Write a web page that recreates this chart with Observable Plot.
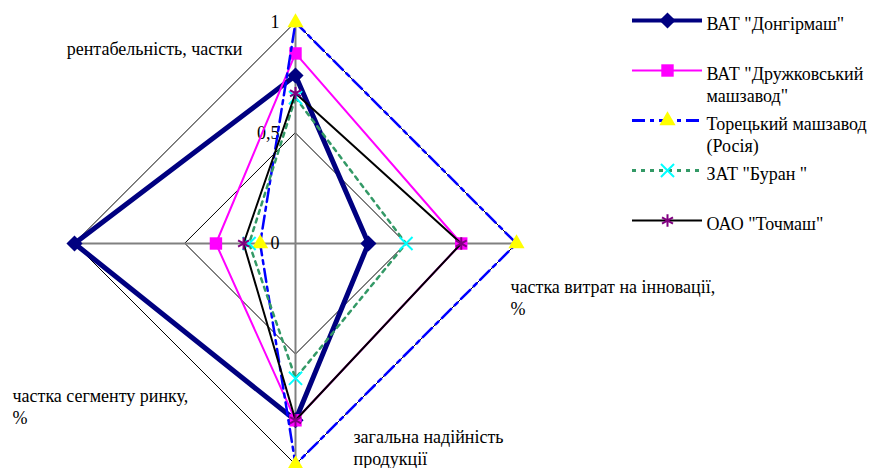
<!DOCTYPE html>
<html>
<head>
<meta charset="utf-8">
<script src="https://cdn.jsdelivr.net/npm/d3@7"></script>
<script src="https://cdn.jsdelivr.net/npm/@observablehq/plot@0.6"></script>
<style>
  html, body { margin: 0; padding: 0; background: #fff; }
  #wrap { position: relative; width: 869px; height: 468px; }
  #wrap svg { position: absolute; top: 0; }
  #wrap svg, #wrap svg text { font-family: "Liberation Serif", "Times New Roman", serif !important; }
</style>
</head>
<body>
<div id="wrap"></div>
<script>
// ---- data ----
const categories = [
  "рентабельність, частки",
  "частка витрат на інновації,\n%",
  "загальна надійність\nпродукції",
  "частка сегменту ринку,\n%"
];
const seriesNames = [
  'ВАТ "Донгірмаш"',
  'ВАТ "Дружковський\nмашзавод"',
  'Торецький машзавод\n(Росія)',
  'ЗАТ "Буран "',
  'ОАО "Точмаш"'
];
const dongirmash = [0.76, 0.33, 0.80, 1.00];
const druzhkivka = [0.86, 0.75, 0.80, 0.36];
const toretsk    = [1.00, 1.00, 1.00, 0.16];
const buran      = [0.66, 0.50, 0.61, 0.21];
const tochmash   = [0.68, 0.75, 0.80, 0.235];
const tickValues = [0, 0.5, 1];
const tickLabels = ["0", "0,5", "1"];
const gridLevels = [0.5, 1];

// ---- styles ----
const seriesValues = [dongirmash, druzhkivka, toretsk, buran, tochmash];
const styles = [
  {stroke: "#000080", strokeWidth: 5, dash: null, symbol: "diamond2", fill: "#000080", mstroke: "#000080", r: 6, lw: 4},
  {stroke: "#ff00ff", strokeWidth: 2, dash: null, symbol: "square", fill: "#ff00ff", mstroke: "none", r: 7, lw: 2},
  {stroke: "#0000ff", strokeWidth: 2.5, dash: "13,5,4,5", symbol: "triangle", fill: "#ffff00", mstroke: "none", r: 6, lw: 3},
  {stroke: "#339966", strokeWidth: 2.5, dash: "4,5", symbol: "times", fill: "none", mstroke: "#00ffff", r: 6, lw: 3},
  {stroke: "#000000", strokeWidth: 2, dash: null, symbol: "asterisk", fill: "none", mstroke: "#800080", r: 6, lw: 2}
];
const FS = 18;
const labelLayout = [
  {dx: -53, dy: 16.5, anchor: "end"},
  {dx: -6, dy: 33.5, anchor: "start"},
  {dx: 58, dy: -37.5, anchor: "start"},
  {dx: -62, dy: 142.5, anchor: "start"}
];

const angle = i => i * Math.PI / 2;
const px = (v, i) => v * Math.sin(angle(i));
const py = (v, i) => v * Math.cos(angle(i));
const font = "Liberation Serif";

const marks = [];
// grid rings
gridLevels.forEach(g => {
  marks.push(Plot.line(categories.map((c, i) => ({x: px(g, i), y: py(g, i)})),
    {x: "x", y: "y", curve: "linear-closed", stroke: "#000", strokeWidth: 1}));
});
// spokes
categories.forEach((c, i) => {
  marks.push(Plot.link([{i}], {x1: 0, y1: 0, x2: d => px(1, d.i), y2: d => py(1, d.i), stroke: "#808080", strokeWidth: 2}));
});
// tick labels
marks.push(Plot.text(tickValues, {x: 0, y: d => d, text: (d, k) => tickLabels[k], textAnchor: "end", dx: -16, fontSize: FS, fontFamily: font, fill: "#000"}));
// category labels
categories.forEach((c, i) => {
  const L = labelLayout[i];
  marks.push(Plot.text([c], {x: px(1, i), y: py(1, i), text: d => d, textAnchor: L.anchor, lineAnchor: "top",
    dx: L.dx, dy: L.dy, fontSize: FS, lineHeight: 1.22, fontFamily: font, fill: "#000"}));
});
// series
seriesValues.forEach((vals, s) => {
  const st = styles[s];
  const pts = vals.map((v, i) => ({x: px(v, i), y: py(v, i)}));
  marks.push(Plot.line(pts, {x: "x", y: "y", curve: "linear-closed", stroke: st.stroke, strokeWidth: st.strokeWidth,
    strokeDasharray: st.dash || undefined, strokeLinejoin: "round"}));
  marks.push(Plot.dot(pts, {x: "x", y: "y", symbol: st.symbol, r: st.r, fill: st.fill, stroke: st.mstroke, strokeWidth: 2}));
});

const chart = Plot.plot({
  width: 869, height: 468,
  x: {domain: [-1, 1], range: [74, 516], axis: null},
  y: {domain: [-1, 1], range: [464, 22], axis: null},
  style: {background: "transparent", overflow: "visible"},
  marks
});
chart.style.left = "0px";
document.getElementById("wrap").appendChild(chart);

// legend
const legendData = seriesNames.map((n, s) => ({name: n, s}));
const legend = Plot.plot({
  width: 269, height: 240,
  x: {domain: [0, 1], range: [32, 102], axis: null},
  y: {type: "point", domain: seriesNames, range: [18, 221], padding: 0, axis: null},
  style: {background: "transparent", overflow: "visible"},
  marks: [
    ...legendData.map(d => Plot.ruleY([d], {y: "name", x1: 0, x2: 1, stroke: styles[d.s].stroke, strokeWidth: styles[d.s].lw,
      strokeDasharray: styles[d.s].dash || undefined})),
    ...legendData.map(d => Plot.dot([d], {x: 0.5, y: "name", symbol: styles[d.s].symbol, r: styles[d.s].r,
      fill: styles[d.s].fill, stroke: styles[d.s].mstroke, strokeWidth: 2})),
    Plot.text(legendData, {x: 1, y: "name", text: "name", textAnchor: "start", lineAnchor: "top", dx: 4, dy: -6.5,
      fontSize: FS, lineHeight: 1.22, fontFamily: font, fill: "#000"})
  ]
});
legend.style.left = "600px";
document.getElementById("wrap").appendChild(legend);
</script>
</body>
</html>
